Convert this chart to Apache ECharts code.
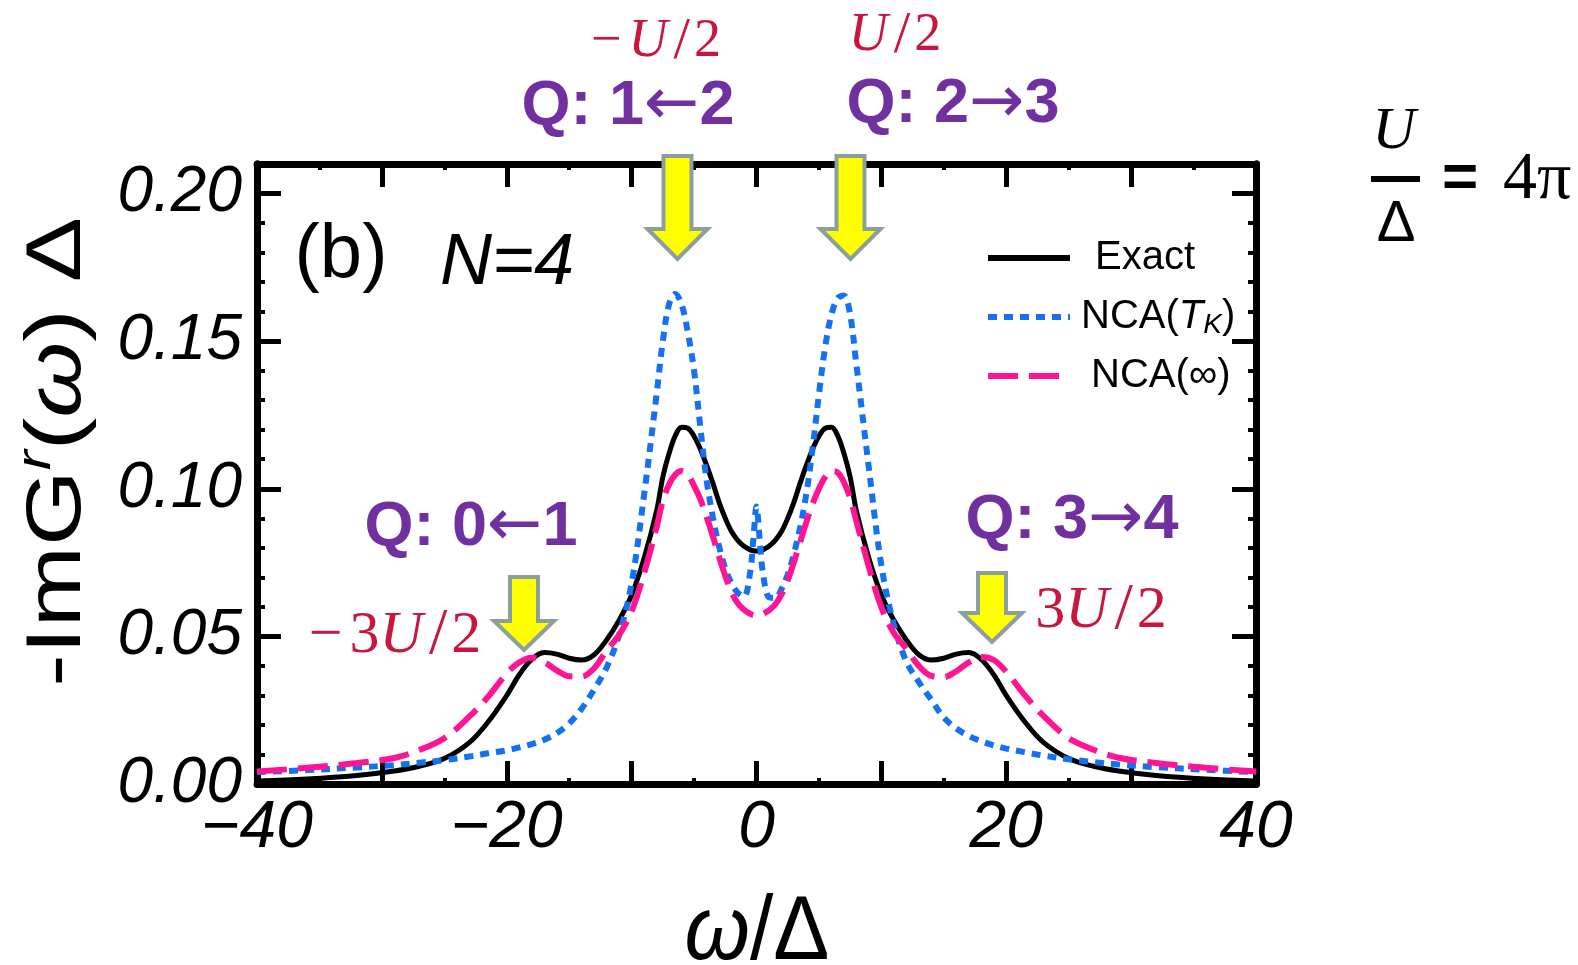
<!DOCTYPE html>
<html>
<head>
<meta charset="utf-8">
<script src="https://cdn.jsdelivr.net/npm/echarts@6/dist/echarts.min.js"></script>
<style>
html,body{margin:0;padding:0;background:#fff;}
#chart{width:1578px;height:965px;}
</style>
</head>
<body>
<div id="chart"></div>
<script>
// ---- data ----
const omega = [-40,-36,-32,-29,-27,-25,-23,-21.5,-20,-19,
  -18,-17,-16,-15,-14,-13,-12,-11,-10,-9,
  -8,-7.5,-7,-6.5,-6,-5.5,-5,-4.5,-4,-3.5,
  -3,-2.5,-2,-1.5,-1,-0.5,-0.25,0,
  0.25,0.5,1,1.5,2,2.5,3,3.5,4,4.5,
  5,5.5,6,6.5,7,7.5,8,9,10,11,
  12,13,14,15,16,17,18,19,20,21.5,
  23,25,27,29,32,36,40];

const exact = [0.0010,0.0017,0.0029,0.0044,0.0060,0.0086,0.0140,0.0210,0.0300,0.0370,
  0.0422,0.0445,0.0440,0.0426,0.0420,0.0438,0.0488,0.0555,0.0640,0.0765,
  0.0925,0.1040,0.1120,0.1180,0.1208,0.1205,0.1178,0.1135,0.1080,0.1020,
  0.0955,0.0900,0.0855,0.0825,0.0805,0.0793,0.0790,0.0789,
  0.0790,0.0793,0.0805,0.0825,0.0855,0.0900,0.0955,0.1020,0.1080,0.1135,
  0.1178,0.1205,0.1208,0.1180,0.1120,0.1040,0.0925,0.0765,0.0640,0.0555,
  0.0488,0.0438,0.0420,0.0426,0.0440,0.0445,0.0422,0.0370,0.0300,0.0210,
  0.0140,0.0086,0.0060,0.0044,0.0029,0.0017,0.0010];

const ncaTK = [0.0040,0.0047,0.0056,0.0064,0.0072,0.0081,0.0093,0.0104,0.0114,0.0124,
  0.0135,0.0150,0.0172,0.0205,0.0255,0.0320,0.0395,0.0505,0.0680,0.0980,
  0.1320,0.1500,0.1625,0.1660,0.1625,0.1530,0.1400,0.1210,0.1030,0.0905,
  0.0805,0.0730,0.0680,0.0648,0.0635,0.0720,0.0830,0.0940,
  0.0830,0.0720,0.0632,0.0630,0.0660,0.0710,0.0780,0.0870,0.0985,0.1140,
  0.1320,0.1480,0.1590,0.1645,0.1655,0.1590,0.1420,0.1070,0.0740,0.0540,
  0.0415,0.0345,0.0285,0.0225,0.0188,0.0163,0.0145,0.0131,0.0120,0.0108,
  0.0096,0.0084,0.0074,0.0066,0.0057,0.0048,0.0040];

const ncaInf = [0.0042,0.0055,0.0071,0.0088,0.0115,0.0155,0.0228,0.0295,0.0375,0.0412,
  0.0428,0.0413,0.0385,0.0365,0.0364,0.0392,0.0452,0.0505,0.0585,0.0715,
  0.0870,0.0960,0.1015,0.1048,0.1060,0.1048,0.1010,0.0965,0.0905,0.0840,
  0.0770,0.0705,0.0650,0.0612,0.0590,0.0576,0.0572,0.0571,
  0.0572,0.0576,0.0588,0.0608,0.0642,0.0690,0.0752,0.0820,0.0888,0.0950,
  0.1000,0.1040,0.1060,0.1055,0.1022,0.0968,0.0890,0.0735,0.0598,0.0512,
  0.0458,0.0400,0.0366,0.0362,0.0382,0.0412,0.0430,0.0420,0.0380,0.0300,
  0.0230,0.0155,0.0116,0.0089,0.0071,0.0055,0.0042];

const seriesNames = ['Exact', 'NCA(T_K)', 'NCA(\u221E)'];
const xTicks = {min: -40, max: 40, interval: 10, labelStep: 20};
const yTicks = {min: 0, max: 0.21, interval: 0.05, minor: 0.01};

// ---- build ----
const pairs = vals => omega.map((w, i) => [w, vals[i]]);
const SANS = 'Liberation Sans';
const SERIF = 'Liberation Serif';
const PURPLE = '#7030a0';
const RED = '#c8163f';
const FRAME = 7;

const chart = echarts.init(document.getElementById('chart'), null, {renderer: 'canvas'});

function xAxisCfg(pos, labels) {
  return {
    type: 'value', position: pos, min: xTicks.min, max: xTicks.max, interval: xTicks.interval,
    axisLine: {show: true, onZero: false, lineStyle: {color: '#000', width: FRAME}},
    axisTick: {show: true, inside: true, length: 23, lineStyle: {color: '#000', width: 5}},
    minorTick: {show: true, splitNumber: 2, length: 6, lineStyle: {color: '#000', width: 4}},
    splitLine: {show: false},
    axisLabel: {
      show: labels, fontFamily: SANS, fontStyle: 'italic', fontSize: 66, color: '#000', margin: 12,
      formatter: v => (v % xTicks.labelStep !== 0) ? '' : (v < 0 ? '\u2212' : '') + Math.abs(v)
    }
  };
}
function yAxisCfg(pos, labels, interval, tickLen, tickW) {
  return {
    type: 'value', position: pos, min: yTicks.min, max: yTicks.max, interval: interval,
    axisLine: {show: true, onZero: false, lineStyle: {color: '#000', width: FRAME}},
    axisTick: {show: true, inside: true, length: tickLen, lineStyle: {color: '#000', width: tickW}},
    splitLine: {show: false},
    axisLabel: {
      show: labels, fontFamily: SANS, fontStyle: 'italic', fontSize: 64, color: '#000', margin: 15,
      showMaxLabel: false,
      formatter: v => (Math.abs(v / yTicks.interval - Math.round(v / yTicks.interval)) < 1e-6) ? v.toFixed(2) : ''
    }
  };
}

function arrow(cx, top, headTop, tip) {
  return {
    type: 'polygon', z: 20,
    shape: {points: [[cx - 14, top + 2], [cx + 14, top + 2], [cx + 14, headTop], [cx + 30, headTop],
      [cx, tip - 3], [cx - 30, headTop], [cx - 14, headTop]]},
    style: {fill: '#ffff00', stroke: '#8c9f9f', lineWidth: 4, lineJoin: 'miter'}
  };
}
function txt(x, y, text, style, extra) {
  return Object.assign({
    type: 'text', x: x, y: y, z: 30,
    style: Object.assign({text: text, align: 'center', verticalAlign: 'middle',
      textAlign: 'center', textVerticalAlign: 'middle', fill: '#000', fontFamily: SANS}, style)
  }, extra || {});
}
const redRich = size => ({
  r: {fontFamily: SERIF, fontSize: size, fill: RED, color: RED},
  m: {fontFamily: SERIF, fontSize: size, fill: RED, color: RED, padding: [0, 7, 0, 0]},
  s: {fontFamily: SERIF, fontSize: size * 1.1, fill: RED, color: RED, padding: [0, 4, 0, 6]},
  i: {fontFamily: SERIF, fontSize: size, fontStyle: 'italic', fill: RED, color: RED}
});
const qRich = {
  q: {fontFamily: SANS, fontSize: 63, fontWeight: 'bold', fill: PURPLE, color: PURPLE},
  a: {fontFamily: 'DejaVu Sans', fontSize: 66, fontWeight: 'normal', fill: PURPLE, color: PURPLE}
};
const qText = (l, arr, r) => '{q|Q: ' + l + '}{a|' + arr + '}{q|' + r + '}';

const graphics = [
  // y-axis title
  txt(58, 452, '{a|-ImG}{s|r}{a|(}{w|\u03C9}{a|) \u0394}', {
    rich: {
      a: {fontFamily: SANS, fontSize: 78, lineHeight: 90},
      s: {fontFamily: SANS, fontSize: 48, fontStyle: 'italic', lineHeight: 60, verticalAlign: 'top'},
      w: {fontFamily: SANS, fontSize: 78, fontStyle: 'italic', lineHeight: 90}
    }
  }, {rotation: Math.PI / 2, scaleX: 1.25}),
  // x-axis title
  txt(757, 934, '{w|\u03C9}{a|/\u0394}', {
    rich: {
      w: {fontFamily: SANS, fontSize: 84, fontStyle: 'italic'},
      a: {fontFamily: SANS, fontSize: 84}
    }
  }, {scaleY: 1.08}),
  txt(341, 256, '(b)', {fontSize: 76}),
  txt(440, 264, 'N=4', {fontSize: 72, fontStyle: 'italic', align: 'left', textAlign: 'left'}),
  // purple transition labels
  txt(628, 107, qText('1', '\u2190', '2'), {rich: qRich}),
  txt(953, 105, qText('2', '\u2192', '3'), {rich: qRich}),
  txt(471, 528, qText('0', '\u2190', '1'), {rich: qRich}),
  txt(1072, 521, qText('3', '\u2192', '4'), {rich: qRich}),
  // red energy labels
  txt(656, 42, '{m|\u2212}{i|U}{s|/}{r|2}', {rich: redRich(54)}),
  txt(895, 36, '{i|U}{s|/}{r|2}', {rich: redRich(54)}),
  txt(395, 636, '{m|\u2212}{r|3}{i|U}{s|/}{r|2}', {rich: redRich(60)}),
  txt(1101, 611, '{r|3}{i|U}{s|/}{r|2}', {rich: redRich(60)}),
  // arrows
  arrow(677.5, 154, 229, 262),
  arrow(850.5, 154, 229, 262),
  arrow(524, 575, 621, 653),
  arrow(992, 571, 613, 645),
  // U / Delta = 4 pi
  txt(1394, 132, 'U', {fontFamily: SERIF, fontSize: 60, fontStyle: 'italic'}),
  {type: 'rect', z: 30, shape: {x: 1371, y: 176, width: 49, height: 6}, style: {fill: '#000'}},
  txt(1396, 225, '\u0394', {fontFamily: SANS, fontSize: 58}),
  txt(1460, 180, '=', {fontFamily: SANS, fontSize: 62, fontWeight: 'bold'}),
  txt(1503, 180, '4\u03C0', {fontFamily: SERIF, fontSize: 68, align: 'left', textAlign: 'left'})
];

const option = {
  backgroundColor: '#fff',
  animation: false,
  grid: {left: 257, right: 322, top: 164, bottom: 181, containLabel: false},
  xAxis: [xAxisCfg('bottom', true), xAxisCfg('top', false)],
  yAxis: [
    yAxisCfg('left', true, yTicks.interval, 24, 5),
    yAxisCfg('right', false, yTicks.interval, 24, 5),
    yAxisCfg('left', false, yTicks.minor, 8, 4),
    yAxisCfg('right', false, yTicks.minor, 8, 4)
  ],
  legend: {
    left: 980, top: 231, orient: 'vertical', itemWidth: 82, itemHeight: 44, itemGap: 15,
    selectedMode: false,
    itemStyle: {opacity: 0, borderWidth: 0},
    lineStyle: {width: 6},
    textStyle: {
      fontFamily: SANS, fontSize: 40, color: '#000', lineHeight: 44,
      rich: {
        n: {fontFamily: SANS, fontSize: 40, lineHeight: 44, color: '#000'},
        t: {fontFamily: SANS, fontSize: 40, fontStyle: 'italic', lineHeight: 44, color: '#000'},
        k: {fontFamily: SANS, fontSize: 28, fontStyle: 'italic', lineHeight: 20, verticalAlign: 'bottom', color: '#000'}
      }
    },
    data: [
      {name: seriesNames[0], textStyle: {padding: [0, 0, 0, 20]}},
      {name: seriesNames[1], textStyle: {padding: [0, 0, 0, 6]}},
      {name: seriesNames[2], textStyle: {padding: [0, 0, 0, 16]}}
    ],
    formatter: name => name === 'NCA(T_K)' ? '{n|NCA(}{t|T}{k|K}{n|)}' : '{n|' + name + '}'
  },
  series: [
    {name: seriesNames[0], type: 'line', data: pairs(exact), symbol: 'none', smooth: 0.35,
      lineStyle: {color: '#000', width: 5, type: 'solid'}, itemStyle: {color: '#000'}, z: 3},
    {name: seriesNames[1], type: 'line', data: pairs(ncaTK), symbol: 'none', smooth: 0.35,
      lineStyle: {color: '#1472f2', width: 6, type: [9, 7]}, itemStyle: {color: '#1472f2'}, z: 4},
    {name: seriesNames[2], type: 'line', data: pairs(ncaInf), symbol: 'none', smooth: 0.35,
      lineStyle: {color: '#ff1493', width: 6, type: [30, 11]}, itemStyle: {color: '#ff1493'}, z: 5}
  ],
  graphic: graphics
};
chart.setOption(option);
</script>
</body>
</html>
